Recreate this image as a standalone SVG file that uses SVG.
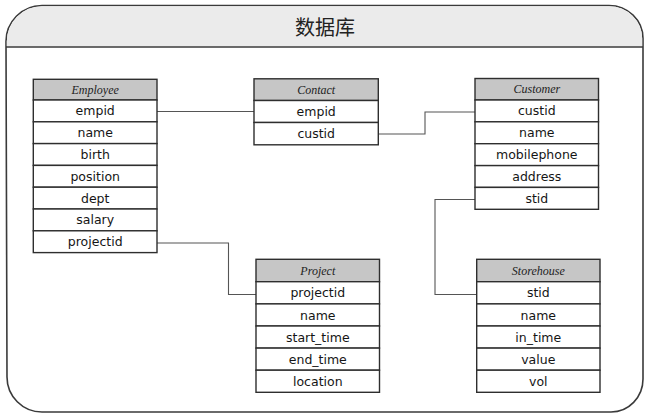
<svg xmlns="http://www.w3.org/2000/svg" width="645" height="414" viewBox="0 0 645 414">
<style>
.frame{fill:#ffffff;stroke:#3a3a3a;stroke-width:1.6}
.band{fill:#ebebeb;stroke:none}
.div{stroke:#3a3a3a;stroke-width:1.4}
.title{font-family:"Noto Sans CJK SC","DejaVu Sans",sans-serif;font-size:20px;fill:#222;text-anchor:middle}
.hdr{fill:#c6c6c6;stroke:#2e2e2e;stroke-width:1.4}
.row{fill:#ffffff;stroke:#2e2e2e;stroke-width:1.4}
.ht{font-family:"Liberation Serif",serif;font-style:italic;font-size:12px;fill:#222;text-anchor:middle;dominant-baseline:central}
.t{font-family:"DejaVu Sans",sans-serif;font-size:12.5px;fill:#151515;text-anchor:middle;dominant-baseline:central}
.conn{fill:none;stroke:#555;stroke-width:1.1}
</style>
<g id="frame">
<path class="frame" d="M6,42 A36,36 0 0 1 42,5.5 L609,5.5 A34,33 0 0 1 643,38.5 L643,379 A32,33 0 0 1 611,412 L42,412 A35,35 0 0 1 7,377 Z"/>
<path class="band" d="M6.8,42 A35.2,35.2 0 0 1 42,6.3 L609,6.3 A33.2,32.2 0 0 1 642.2,38.5 L642.2,46.5 L6.8,46.5 Z"/>
<line class="div" x1="6" y1="47" x2="643" y2="47"/>
<text class="title" x="325" y="34.5">数据库</text>
</g>
<g id="connectors">
<polyline class="conn" points="157,111.5 254,111.5"/>
<polyline class="conn" points="378,134 425,134 425,112 475,112"/>
<polyline class="conn" points="475,199.5 435,199.5 435,294.5 476.7,294.5"/>
<polyline class="conn" points="157,243 228.5,243 228.5,294.5 256,294.5"/>
</g>
<g id="Employee">
<rect class="hdr" x="33.3" y="79.3" width="123.7" height="20.7"/>
<text class="ht" x="95.2" y="89.6">Employee</text>
<rect class="row" x="33.3" y="100" width="123.7" height="21.8"/><text class="t" x="95.2" y="110.9">empid</text>
<rect class="row" x="33.3" y="121.8" width="123.7" height="21.8"/><text class="t" x="95.2" y="132.7">name</text>
<rect class="row" x="33.3" y="143.6" width="123.7" height="21.8"/><text class="t" x="95.2" y="154.5">birth</text>
<rect class="row" x="33.3" y="165.4" width="123.7" height="21.8"/><text class="t" x="95.2" y="176.3">position</text>
<rect class="row" x="33.3" y="187.2" width="123.7" height="21.8"/><text class="t" x="95.2" y="198.1">dept</text>
<rect class="row" x="33.3" y="209" width="123.7" height="21.8"/><text class="t" x="95.2" y="219.9">salary</text>
<rect class="row" x="33.3" y="230.8" width="123.7" height="21.8"/><text class="t" x="95.2" y="241.7">projectid</text>
</g>
<g id="Contact">
<rect class="hdr" x="254" y="78.8" width="124.3" height="21.7"/>
<text class="ht" x="316.2" y="89.6">Contact</text>
<rect class="row" x="254" y="100.5" width="124.3" height="22"/><text class="t" x="316.2" y="111.5">empid</text>
<rect class="row" x="254" y="122.5" width="124.3" height="22.3"/><text class="t" x="316.2" y="133.6">custid</text>
</g>
<g id="Customer">
<rect class="hdr" x="475" y="78.5" width="123.5" height="21.5"/>
<text class="ht" x="536.8" y="89.3">Customer</text>
<rect class="row" x="475" y="100" width="123.5" height="21.8"/><text class="t" x="536.8" y="110.9">custid</text>
<rect class="row" x="475" y="121.8" width="123.5" height="21.9"/><text class="t" x="536.8" y="132.8">name</text>
<rect class="row" x="475" y="143.7" width="123.5" height="21.9"/><text class="t" x="536.8" y="154.6">mobilephone</text>
<rect class="row" x="475" y="165.6" width="123.5" height="21.8"/><text class="t" x="536.8" y="176.5">address</text>
<rect class="row" x="475" y="187.4" width="123.5" height="21.9"/><text class="t" x="536.8" y="198.3">stid</text>
</g>
<g id="Project">
<rect class="hdr" x="256" y="259.3" width="123.5" height="22.4"/>
<text class="ht" x="317.8" y="270.5">Project</text>
<rect class="row" x="256" y="281.7" width="123.5" height="22.2"/><text class="t" x="317.8" y="292.8">projectid</text>
<rect class="row" x="256" y="303.9" width="123.5" height="22.1"/><text class="t" x="317.8" y="315">name</text>
<rect class="row" x="256" y="326" width="123.5" height="22.1"/><text class="t" x="317.8" y="337">start_time</text>
<rect class="row" x="256" y="348.1" width="123.5" height="22.1"/><text class="t" x="317.8" y="359.1">end_time</text>
<rect class="row" x="256" y="370.2" width="123.5" height="22.1"/><text class="t" x="317.8" y="381.2">location</text>
</g>
<g id="Storehouse">
<rect class="hdr" x="476.7" y="259.3" width="123.3" height="22.4"/>
<text class="ht" x="538.3" y="270.5">Storehouse</text>
<rect class="row" x="476.7" y="281.7" width="123.3" height="22.2"/><text class="t" x="538.3" y="292.8">stid</text>
<rect class="row" x="476.7" y="303.9" width="123.3" height="22.1"/><text class="t" x="538.3" y="315">name</text>
<rect class="row" x="476.7" y="326" width="123.3" height="22.1"/><text class="t" x="538.3" y="337">in_time</text>
<rect class="row" x="476.7" y="348.1" width="123.3" height="22.1"/><text class="t" x="538.3" y="359.1">value</text>
<rect class="row" x="476.7" y="370.2" width="123.3" height="22.1"/><text class="t" x="538.3" y="381.2">vol</text>
</g>
</svg>
